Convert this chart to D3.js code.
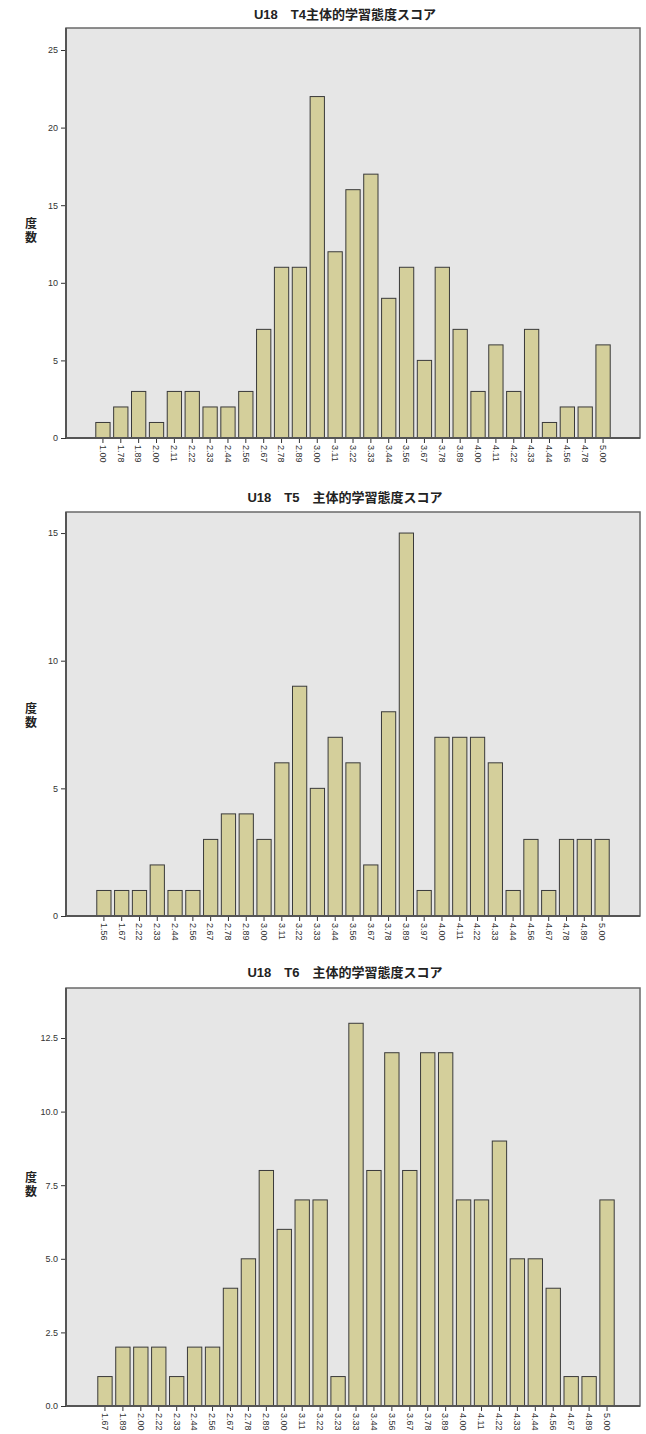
<!DOCTYPE html>
<html><head><meta charset="utf-8">
<script src="https://cdn.jsdelivr.net/npm/d3@7"></script>
<style>body{margin:0;background:#fff;}svg{display:block;}</style>
</head><body>
<script>
const titles = ["U18　T4主体的学習態度スコア", "U18　T5　主体的学習態度スコア", "U18　T6　主体的学習態度スコア"];
const cats1 = ["1.00","1.78","1.89","2.00","2.11","2.22","2.33","2.44","2.56","2.67","2.78","2.89","3.00","3.11","3.22","3.33","3.44","3.56","3.67","3.78","3.89","4.00","4.11","4.22","4.33","4.44","4.56","4.78","5.00"];
const vals1 = [1,2,3,1,3,3,2,2,3,7,11,11,22,12,16,17,9,11,5,11,7,3,6,3,7,1,2,2,6];
const ticks1 = [0,5,10,15,20,25];
const cats2 = ["1.56","1.67","2.22","2.33","2.44","2.56","2.67","2.78","2.89","3.00","3.11","3.22","3.33","3.44","3.56","3.67","3.78","3.89","3.97","4.00","4.11","4.22","4.33","4.44","4.56","4.67","4.78","4.89","5.00"];
const vals2 = [1,1,1,2,1,1,3,4,4,3,6,9,5,7,6,2,8,15,1,7,7,7,6,1,3,1,3,3,3];
const ticks2 = [0,5,10,15];
const cats3 = ["1.67","1.89","2.00","2.22","2.33","2.44","2.56","2.67","2.78","2.89","3.00","3.11","3.22","3.23","3.33","3.44","3.56","3.67","3.78","3.89","4.00","4.11","4.22","4.33","4.44","4.56","4.67","4.89","5.00"];
const vals3 = [1,2,2,2,1,2,2,4,5,8,6,7,7,1,13,8,12,8,12,12,7,7,9,5,5,4,1,1,7];
const ticks3 = [0,2.5,5,7.5,10,12.5];
const yLabel = "度数";

const svg = d3.select("body").append("svg").attr("width",646).attr("height",1434);
const fontFam = "'Liberation Sans', Arial, 'Noto Sans CJK JP', sans-serif";

function drawChart(cfg){
  const g = svg.append("g");
  const left = 66, right = 640;
  g.append("text").attr("x",(left+right)/2 - 8).attr("y",cfg.titleY)
    .attr("text-anchor","middle").attr("font-family",fontFam)
    .attr("font-weight","bold").attr("font-size",13).attr("fill","#222").text(cfg.title);
  g.append("rect").attr("x",left).attr("y",cfg.top).attr("width",right-left).attr("height",cfg.bottom-cfg.top)
    .attr("fill","#e6e6e6").attr("stroke","#6a6a6a").attr("stroke-width",1.5);
  const x = d3.scaleBand().domain(cfg.cats).range([cfg.x0,cfg.x1]).paddingInner(0.2).paddingOuter(0.1);
  const y = d3.scaleLinear().domain([0,cfg.ymax]).range([cfg.bottom,cfg.bottom - cfg.pxPerUnit*cfg.ymax]);
  g.selectAll("rect.bar").data(cfg.vals).join("rect").attr("class","bar")
    .attr("x",(d,i)=>x(cfg.cats[i])).attr("width",x.bandwidth())
    .attr("y",d=>y(d)).attr("height",d=>y(0)-y(d))
    .attr("fill","#d4cf9b").attr("stroke","#3a3a3a").attr("stroke-width",1);
  const yAxis = d3.axisLeft(y).tickValues(cfg.ticks).tickSize(5).tickFormat(cfg.fmt);
  const ya = g.append("g").attr("transform",`translate(${left},0)`).call(yAxis);
  ya.select(".domain").remove();
  ya.selectAll("line").attr("stroke","#333");
  ya.selectAll("text").attr("font-family",fontFam).attr("font-size",9).attr("fill","#333");
  g.append("line").attr("x1",left).attr("x2",left).attr("y1",cfg.top).attr("y2",cfg.bottom).attr("stroke","#555").attr("stroke-width",2);
  const xAxis = d3.axisBottom(x).tickSize(5).tickSizeOuter(0);
  const xa = g.append("g").attr("transform",`translate(0,${cfg.bottom})`).call(xAxis);
  xa.select(".domain").remove();
  xa.selectAll("line").attr("stroke","#333");
  xa.selectAll("text").attr("font-family",fontFam).attr("font-size",9).attr("fill","#333")
    .attr("transform","rotate(90)").attr("text-anchor","start").attr("x",7).attr("y",0).attr("dy","0.35em");
  g.append("line").attr("x1",left).attr("x2",right).attr("y1",cfg.bottom).attr("y2",cfg.bottom).attr("stroke","#555").attr("stroke-width",2);
  const lbl = g.append("text").attr("font-family",fontFam).attr("font-weight","bold").attr("font-size",12).attr("fill","#222").attr("text-anchor","middle");
  yLabel.split("").forEach((ch,i)=>{
    lbl.append("tspan").attr("x",31).attr("y",cfg.labelY + i*14).text(ch);
  });
}

drawChart({title:titles[0],titleY:19,top:28,bottom:438,cats:cats1,vals:vals1,ticks:ticks1,ymax:26.4,pxPerUnit:15.52,x0:94,x1:612,labelY:228,fmt:d3.format("d")});
drawChart({title:titles[1],titleY:502,top:512,bottom:916,cats:cats2,vals:vals2,ticks:ticks2,ymax:15.8,pxPerUnit:25.53,x0:95,x1:611,labelY:713,fmt:d3.format("d")});
drawChart({title:titles[2],titleY:977,top:988,bottom:1406,cats:cats3,vals:vals3,ticks:ticks3,ymax:14.2,pxPerUnit:29.44,x0:96,x1:616,labelY:1182,fmt:d3.format(".1f")});
</script>
</body></html>
